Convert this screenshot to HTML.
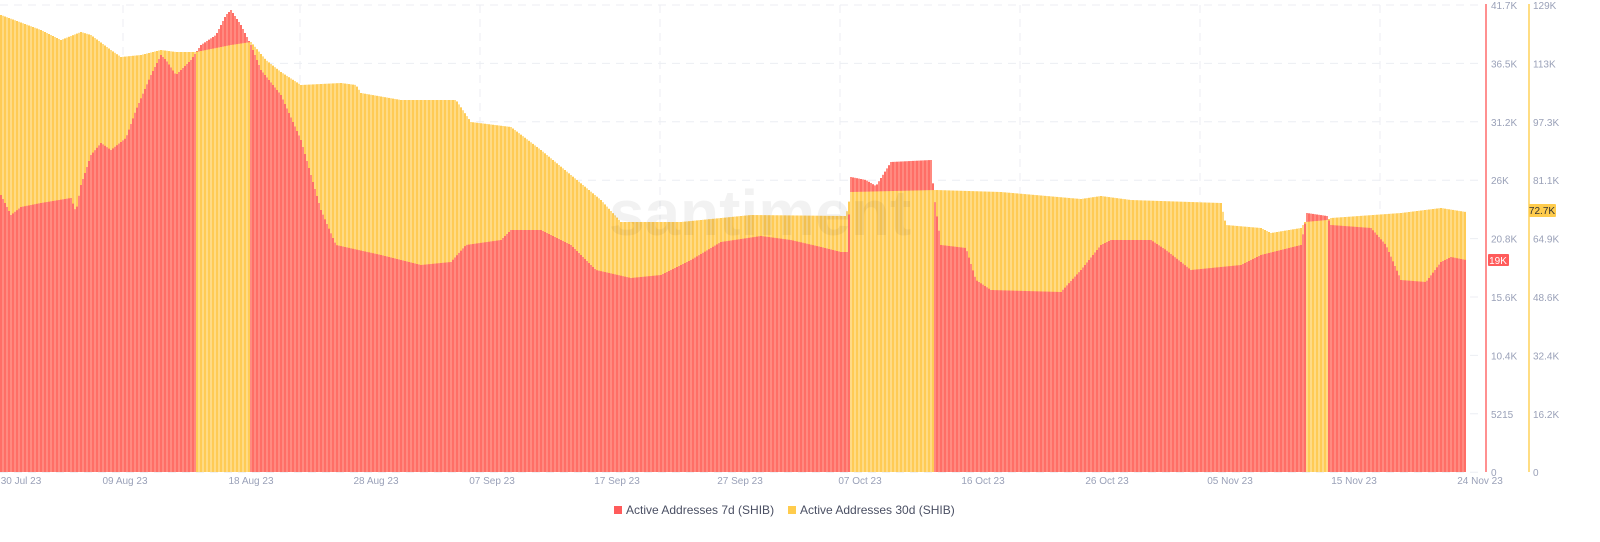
<!DOCTYPE html>
<html><head><meta charset="utf-8"><style>
html,body{margin:0;padding:0;background:#fff;width:1600px;height:542px;overflow:hidden;font-family:"Liberation Sans",sans-serif}
</style></head><body>
<svg id="s" width="1600" height="542" xmlns="http://www.w3.org/2000/svg" font-family="Liberation Sans, sans-serif">
<g id="grid" stroke="#eceef3" stroke-dasharray="8,6" stroke-width="1"></g>
<g id="bars"></g>
<text x="760" y="235" font-size="64" fill="#000" fill-opacity="0.05" text-anchor="middle" font-weight="bold">santiment</text>
<line x1="1486" y1="4" x2="1486" y2="472" stroke="#ff6b6b" stroke-width="1.5"/>
<line x1="1529" y1="4" x2="1529" y2="472" stroke="#ffd25a" stroke-width="1.5"/>
<g id="lab" font-size="10" fill="#9aa1b8"></g>
<rect x="1488" y="254" width="21" height="12" fill="#ff5b5b" rx="1"/>
<text x="1498" y="264" font-size="10" fill="#fff" text-anchor="middle">19K</text>
<rect x="1529" y="204" width="27" height="13" fill="#ffcc4d" rx="1"/>
<text x="1542" y="214" font-size="10" fill="#333" text-anchor="middle">72.7K</text>
<rect x="614" y="506" width="8" height="8" fill="#ff5b5b"/>
<text x="626" y="514" font-size="12" fill="#4a4f63">Active Addresses 7d (SHIB)</text>
<rect x="788" y="506" width="8" height="8" fill="#ffcc4d"/>
<text x="800" y="514" font-size="12" fill="#4a4f63">Active Addresses 30d (SHIB)</text>
</svg>
<script>
var Y=[[0,15],[40,30],[60,40],[80,32],[90,35],[110,50],[120,57],[140,55],[160,50],[175,52],[195,52],[230,45],[250,42],[265,60],[280,72],[300,85],[340,83],[355,85],[360,93],[400,100],[455,100],[470,122],[510,127],[540,150],[570,175],[600,200],[620,222],[680,222],[720,218],[750,215],[845,216],[850,192],[935,190],[1000,192],[1080,199],[1100,196],[1130,200],[1220,203],[1225,225],[1260,228],[1270,233],[1300,228],[1304,222],[1326,220],[1330,218],[1400,213],[1440,208],[1465,212]];
var R=[[0,195],[10,215],[20,207],[40,203],[70,198],[75,212],[80,185],[90,155],[100,143],[110,150],[125,138],[135,110],[150,75],[160,55],[165,60],[175,75],[190,60],[200,45],[215,35],[225,15],[230,10],[240,25],[250,45],[260,70],[280,95],[300,140],[320,210],[335,245],[380,255],[420,265],[450,262],[465,245],[500,240],[510,230],[540,230],[570,245],[595,270],[630,278],[660,275],[690,260],[720,242],[760,236],[790,240],[820,247],[840,252],[846,252],[850,177],[865,180],[875,186],[885,170],[890,162],[930,160],[933,195],[940,245],[965,248],[975,280],[990,290],[1060,292],[1080,270],[1100,245],[1110,240],[1150,240],[1165,250],[1190,270],[1240,265],[1260,255],[1300,245],[1306,213],[1326,216],[1330,225],[1370,228],[1385,245],[1400,280],[1425,282],[1440,262],[1450,257],[1465,260]];
function f(a,x){for(var i=1;i<a.length;i++){if(x<=a[i][0]){var t=(x-a[i-1][0])/(a[i][0]-a[i-1][0]);return a[i-1][1]+t*(a[i][1]-a[i-1][1]);}}return a[a.length-1][1];}
var b=document.getElementById("bars"),h="";
for(var x=0;x<1465;x+=2){var r=f(R,x),y=f(Y,x);var rc=(x%4==0)?"#ff6e66":"#ff8a80",yc=(x%4==0)?"#ffcb55":"#ffdb85";
var a="<rect x='"+x+"' y='"+r+"' width='2' height='"+(472-r)+"' fill='"+rc+"'/>",c="<rect x='"+x+"' y='"+y+"' width='2' height='"+(472-y)+"' fill='"+yc+"'/>";
h+= r<y ? a+c : c+a;}
b.innerHTML=h;
var g=document.getElementById("grid"),gh="",lab=document.getElementById("lab"),lh="";
var rl=["41.7K","36.5K","31.2K","26K","20.8K","15.6K","10.4K","5215","0"],yl=["129K","113K","97.3K","81.1K","64.9K","48.6K","32.4K","16.2K","0"];
for(var i=0;i<9;i++){var yy=5+i*58.4;gh+="<line x1='0' x2='1480' y1='"+yy+"' y2='"+yy+"'/>";lh+="<text x='1491' y='"+(yy+4)+"'>"+rl[i]+"</text><text x='1533' y='"+(yy+4)+"'>"+yl[i]+"</text>";}
[123,300,480,660,840,1020,1200,1380].forEach(function(v){gh+="<line y1='5' y2='472' x1='"+v+"' x2='"+v+"'/>";});
var d=[["30 Jul 23",21],["09 Aug 23",125],["18 Aug 23",251],["28 Aug 23",376],["07 Sep 23",492],["17 Sep 23",617],["27 Sep 23",740],["07 Oct 23",860],["16 Oct 23",983],["26 Oct 23",1107],["05 Nov 23",1230],["15 Nov 23",1354],["24 Nov 23",1480]];
d.forEach(function(e){lh+="<text x='"+e[1]+"' y='484' text-anchor='middle'>"+e[0]+"</text>";});
g.innerHTML=gh;lab.innerHTML=lh;
</script>
</body></html>
